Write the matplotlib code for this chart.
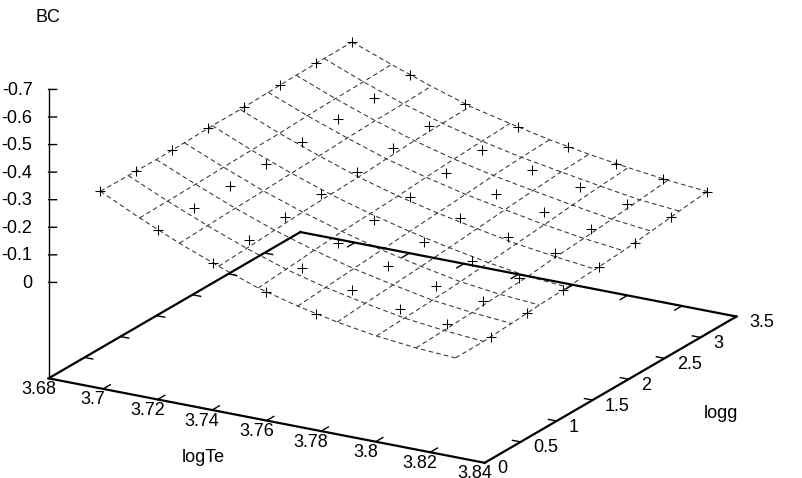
import numpy as np
import matplotlib
matplotlib.use("Agg")
import matplotlib.pyplot as plt
from mpl_toolkits.mplot3d import proj3d

plt.rcParams['font.family'] = ['Liberation Sans', 'DejaVu Sans']

# measured data points (crosses)
logTe_pts = [3.699, 3.7202, 3.7404, 3.7597, 3.7782, 3.7959, 3.8129, 3.8293]
logg_pts = [0, 0.5, 1, 1.5, 2, 2.5, 3, 3.5]
nan = float('nan')
BC_pts = [
    [-.367, -.364, -.364, -.369, -.369, -.373, -.377, -.378],
    [-.266, -.270, -.274, -.279, -.283, -.291, -.291, -.299],
    [-.185, -.193, -.201, -.209, -.213, -.224, -.229, -.233],
    [-.117, -.129, -.144, -.152, -.159, -.171, -.179, -.186],
    [-.073, -.085, -.096, -.107, -.119, -.130, -.142, -.149],
    [nan, -.050, -.058, -.073, -.084, -.099, -.114, -.122],
    [nan, -.028, -.036, -.044, -.059, -.070, -.085, -.1005],
    [nan, -.013, -.024, -.032, -.040, -.051, -.070, -.085],
]

# dashed surface mesh
logTe_grid = [3.699, 3.7134, 3.7280, 3.7424, 3.7569, 3.7714, 3.7859, 3.8003, 3.8148, 3.8293]
logg_grid = [0, 0.389, 0.778, 1.167, 1.556, 1.944, 2.333, 2.722, 3.111, 3.5]
BC_grid = [
    [-.367, -.365, -.364, -.366, -.369, -.369, -.372, -.375, -.377, -.378],
    [-.298, -.300, -.302, -.305, -.308, -.310, -.315, -.318, -.320, -.324],
    [-.234, -.239, -.243, -.247, -.252, -.256, -.262, -.266, -.268, -.273],
    [-.178, -.184, -.191, -.198, -.203, -.207, -.214, -.221, -.225, -.227],
    [-.127, -.136, -.146, -.155, -.161, -.166, -.175, -.182, -.188, -.193],
    [-.089, -.098, -.107, -.116, -.124, -.132, -.141, -.150, -.157, -.162],
    [-.059, -.068, -.076, -.084, -.093, -.103, -.113, -.123, -.132, -.137],
    [-.036, -.042, -.048, -.056, -.066, -.076, -.086, -.098, -.108, -.116],
    [-.0205, -.025, -.031, -.038, -.044, -.056, -.064, -.075, -.086, -.098],
    [-.012, -.013, -.019, -.027, -.033, -.039, -.047, -.059, -.073, -.085],
]

xticks = [3.68, 3.7, 3.72, 3.74, 3.76, 3.78, 3.8, 3.82, 3.84]
xticklabels = ['3.68', '3.7', '3.72', '3.74', '3.76', '3.78', '3.8', '3.82', '3.84']
yticks = [0, 0.5, 1, 1.5, 2, 2.5, 3, 3.5]
yticklabels = ['0', '0.5', '1', '1.5', '2', '2.5', '3', '3.5']
zticks = [0, -0.1, -0.2, -0.3, -0.4, -0.5, -0.6, -0.7]
zticklabels = ['0', '-0.1', '-0.2', '-0.3', '-0.4', '-0.5', '-0.6', '-0.7']

W, H = 802, 478
xmin, xmax = 3.68, 3.84
ymin, ymax = 0, 3.5
zbase, ztop = 0.348, -0.7
FS = 13

fig = plt.figure(figsize=(W / 100, H / 100), dpi=100)
AW = 752.7
ax = fig.add_axes([6 / W, -111.5 / H, AW / W, AW / H], projection='3d', proj_type='ortho')
ax.computed_zorder = False
ax.view_init(elev=19.6, azim=-60)
ax.set_box_aspect((1, 1, 0.609), zoom=1)
ax.set_xlim(xmin, xmax)
ax.set_ylim(ymin, ymax)
ax.set_zlim(zbase, ztop)
ax.set_axis_off()
ax.patch.set_alpha(0)
M = ax.get_proj()


def label(x, y, z, text, off, ha):
    """Tick label anchored on the 3D position, moved by a pixel offset."""
    x2, y2, _ = proj3d.proj_transform(x, y, z, M)
    ax.annotate(text, xy=(x2, y2), xycoords='data', xytext=off,
                textcoords='offset pixels', fontsize=FS, ha=ha, va='center')


# surface mesh
Z = np.array(BC_grid)
mesh = dict(color='#333333', lw=0.75, linestyle=(0, (4.5, 3)), zorder=2)
for k, x in enumerate(logTe_grid):
    ax.plot([x] * len(logg_grid), logg_grid, Z[k, :], **mesh)
for l, y in enumerate(logg_grid):
    ax.plot(logTe_grid, [y] * len(logTe_grid), Z[:, l], **mesh)

# data crosses
Xp, Yp = np.meshgrid(logTe_pts, logg_pts, indexing='ij')
Zp = np.array(BC_pts)
ok = ~np.isnan(Zp)
ax.plot(Xp[ok], Yp[ok], Zp[ok], linestyle='none', marker='+', ms=7, mew=0.75, color='black', zorder=3)

# base frame
frame = dict(color='black', lw=1.6, zorder=4, solid_capstyle='projecting')
ax.plot([xmin, xmax], [ymin, ymin], [zbase, zbase], **frame)
ax.plot([xmax, xmax], [ymin, ymax], [zbase, zbase], **frame)
ax.plot([xmax, xmin], [ymax, ymax], [zbase, zbase], **frame)
ax.plot([xmin, xmin], [ymax, ymin], [zbase, zbase], **frame)
ax.plot([xmin, xmin], [ymin, ymin], [zbase, ztop], color='black', lw=1.0, zorder=4)

tick = dict(color='black', lw=1.0, zorder=4)
for x, lab in zip(xticks, xticklabels):
    if xmin < x < xmax:
        ax.plot([x, x], [ymin, ymin + 0.1], [zbase, zbase], **tick)
        ax.plot([x, x], [ymax, ymax - 0.1], [zbase, zbase], **tick)
    label(x, ymin, zbase, lab, (-10, -11), 'center')
for y, lab in zip(yticks, yticklabels):
    if ymin < y < ymax:
        ax.plot([xmax, xmax - 0.003], [y, y], [zbase, zbase], **tick)
        ax.plot([xmin, xmin + 0.003], [y, y], [zbase, zbase], **tick)
    label(xmax, y, zbase, lab, (12.5, -6), 'left')
for z, lab in zip(zticks, zticklabels):
    ax.plot([xmin, xmin + 0.0022], [ymin, ymin + 0.028], [z, z], **tick)
    label(xmin, ymin, z, lab, (-16, -1), 'right')

fig.text(48 / W, 1 - 17 / H, 'BC', fontsize=FS, ha='center', va='center')
fig.text(203 / W, 1 - 457 / H, 'logTe', fontsize=FS, ha='center', va='center')
fig.text(721 / W, 1 - 413 / H, 'logg', fontsize=FS, ha='center', va='center')

fig.savefig('out.png', dpi=100, facecolor='white')
